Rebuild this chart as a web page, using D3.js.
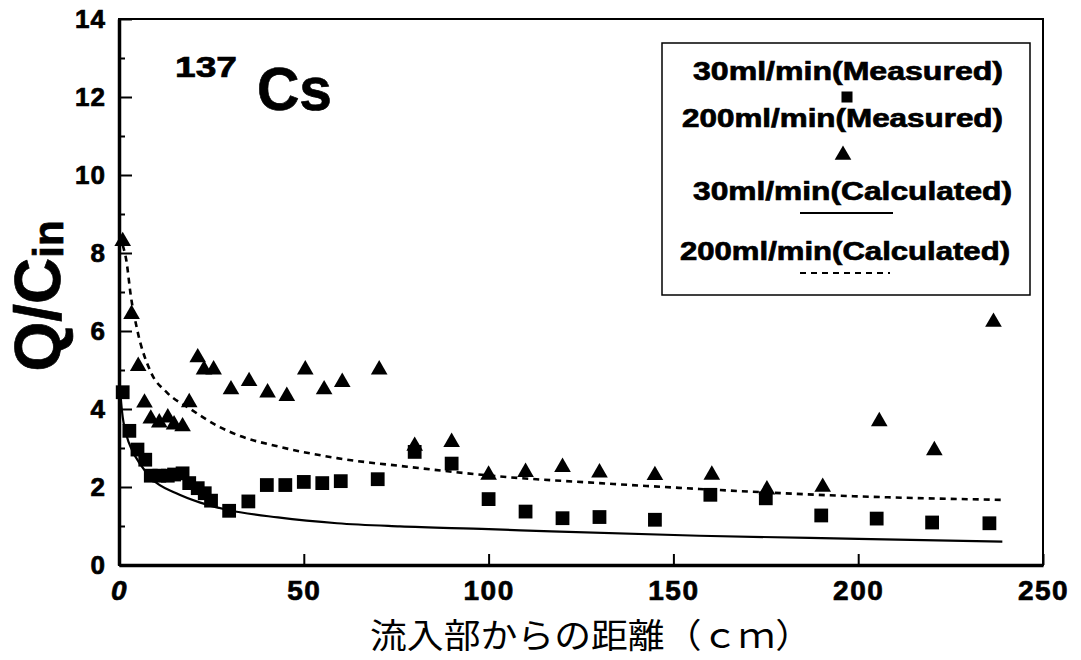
<!DOCTYPE html>
<html>
<head>
<meta charset="utf-8">
<script src="https://cdn.jsdelivr.net/npm/d3@7"></script>
<style>
  html, body { margin: 0; padding: 0; background: #fff; }
  svg { display: block; }
  text { fill: #000; }
  .heavy { stroke: #000; stroke-width: 0.7px; }
</style>
</head>
<body>
<svg id="chart" width="1081" height="660"></svg>
<script>
// ---- Data ----
const meas30X = [1, 2.8, 5, 7.1, 8.6, 10.9, 13.2, 14.9, 17.2, 19, 21.3, 23.2, 24.9, 29.8, 35, 40, 45, 50, 55, 60, 70, 80, 90, 100, 110, 120, 130, 145, 160, 175, 190, 205, 220, 235.5];
const meas30Y = [4.43, 3.44, 2.96, 2.7, 2.29, 2.29, 2.29, 2.32, 2.35, 2.1, 1.97, 1.84, 1.65, 1.39, 1.63, 2.05, 2.05, 2.13, 2.1, 2.15, 2.2, 2.9, 2.6, 1.69, 1.37, 1.2, 1.23, 1.16, 1.8, 1.71, 1.27, 1.19, 1.09, 1.07];

const meas200X = [1, 3.4, 5.2, 6.9, 8.6, 10.9, 13.2, 14.9, 17.2, 19, 21.3, 23, 25.6, 30.3, 35.2, 40.2, 45.4, 50.4, 55.5, 60.4, 70.4, 80, 90, 100, 110, 120, 130, 145, 160.4, 175.3, 190.4, 205.7, 220.6, 236.6];
const meas200Y = [8.3, 6.43, 5.1, 4.16, 3.75, 3.65, 3.78, 3.6, 3.55, 4.17, 5.32, 5.01, 5.01, 4.5, 4.71, 4.42, 4.33, 5.01, 4.5, 4.69, 5.01, 3.05, 3.15, 2.31, 2.38, 2.51, 2.37, 2.3, 2.31, 1.93, 2.0, 3.68, 2.94, 6.23];

const calc30X = [0.3, 0.8, 2.1, 3.5, 5.5, 9, 15.5, 22, 29.5, 43, 59, 76, 100, 117, 157, 200, 239];
const calc30Y = [4.5, 3.95, 3.3, 2.95, 2.62, 2.2, 1.84, 1.6, 1.41, 1.22, 1.07, 0.99, 0.92, 0.86, 0.75, 0.67, 0.6];

const calc200X = [1, 2, 3.2, 5, 8.6, 13, 19, 27, 33, 43, 59, 78, 103, 130, 157, 197, 239];
const calc200Y = [8.2, 7.8, 6.9, 6.0, 4.95, 4.42, 4.02, 3.55, 3.3, 3.04, 2.74, 2.52, 2.27, 2.1, 1.95, 1.77, 1.67];

const xTicks = [0, 50, 100, 150, 200, 250];
const yTicksMajor = [0, 2, 4, 6, 8, 10, 12, 14];
const yTicksMinor = [1, 3, 5, 7, 9, 11, 13];

const legendLabels = ["30ml/min(Measured)", "200ml/min(Measured)", "30ml/min(Calculated)", "200ml/min(Calculated)"];
const titleMass = "137";
const titleElement = "Cs";
const xTitle = "流入部からの距離（ｃｍ）";

// ---- Layout ----
const svg = d3.select("#chart");
const font = "'Liberation Sans', Arial, Helvetica, sans-serif";
const plotL = 119, plotR = 1043, plotT = 19, plotB = 565;

const x = d3.scaleLinear().domain([0, 250]).range([plotL, plotR]);
const y = d3.scaleLinear().domain([0, 14]).range([plotB, plotT]);

// frame (top & right thinner)
svg.append("rect")
  .attr("x", plotL).attr("y", plotT)
  .attr("width", plotR - plotL).attr("height", plotB - plotT)
  .attr("fill", "none").attr("stroke", "#000").attr("stroke-width", 2);

// Y axis: major ticks
const yAxis = d3.axisLeft(y).tickValues(yTicksMajor).tickSizeInner(-13).tickSizeOuter(0).tickPadding(13).tickFormat(d3.format("d"));
const gy = svg.append("g").attr("transform", `translate(${plotL},0)`).call(yAxis);
gy.select(".domain").attr("stroke-width", 3.5);
gy.selectAll(".tick line").attr("stroke-width", 2);
gy.selectAll(".tick text").attr("class", "heavy").attr("font-family", font).attr("font-weight", "bold").attr("font-size", 26).attr("letter-spacing", 1);

// Y minor ticks
const yAxisMinor = d3.axisLeft(y).tickValues(yTicksMinor).tickSizeInner(-6).tickSizeOuter(0).tickFormat("");
const gym = svg.append("g").attr("transform", `translate(${plotL},0)`).call(yAxisMinor);
gym.select(".domain").remove();
gym.selectAll(".tick line").attr("stroke-width", 2);

// X axis
const xAxis = d3.axisBottom(x).tickValues(xTicks).tickSizeInner(-11).tickSizeOuter(0).tickPadding(15).tickFormat(d3.format("d"));
const gx = svg.append("g").attr("transform", `translate(0,${plotB})`).call(xAxis);
gx.select(".domain").attr("stroke-width", 3.5);
gx.selectAll(".tick line").attr("stroke-width", 2);
gx.selectAll(".tick text").attr("class", "heavy").attr("font-family", font).attr("font-weight", "bold").attr("font-size", 28).attr("letter-spacing", 1.5)
  .attr("font-style", d => d === 0 ? "italic" : "normal");

// ---- Curves ----
const line = d3.line().x(d => x(d[0])).y(d => y(d[1])).curve(d3.curveMonotoneX);
svg.append("path")
  .datum(calc30X.map((v, i) => [v, calc30Y[i]]))
  .attr("d", line).attr("fill", "none").attr("stroke", "#000").attr("stroke-width", 2.2);
svg.append("path")
  .datum(calc200X.map((v, i) => [v, calc200Y[i]]))
  .attr("d", line).attr("fill", "none").attr("stroke", "#000").attr("stroke-width", 2.6)
  .attr("stroke-dasharray", "6,5");

// ---- Markers ----
const sq = d3.symbol().type(d3.symbolSquare).size(190);
const tri = d3.symbol().type(d3.symbolTriangle).size(120);

svg.append("g").selectAll("path")
  .data(meas200X.map((v, i) => [v, meas200Y[i]]))
  .join("path")
  .attr("d", tri)
  .attr("transform", d => `translate(${x(d[0])},${y(d[1])})`)
  .attr("fill", "#000");

svg.append("g").selectAll("path")
  .data(meas30X.map((v, i) => [v, meas30Y[i]]))
  .join("path")
  .attr("d", sq)
  .attr("transform", d => `translate(${x(d[0])},${y(d[1])})`)
  .attr("fill", "#000");

// ---- Title 137Cs ----
svg.append("text").attr("x", 175).attr("y", 77).attr("class", "heavy")
  .attr("font-family", font).attr("font-weight", "bold").attr("font-size", 30)
  .attr("textLength", 62).attr("lengthAdjust", "spacingAndGlyphs")
  .text(titleMass);
svg.append("text").attr("x", 257).attr("y", 110).attr("class", "heavy")
  .attr("font-family", font).attr("font-weight", "bold").attr("font-size", 62)
  .attr("textLength", 75).attr("lengthAdjust", "spacingAndGlyphs")
  .text(titleElement);

// ---- Legend ----
svg.append("rect").attr("x", 662).attr("y", 43).attr("width", 368).attr("height", 252)
  .attr("fill", "#fff").attr("stroke", "#000").attr("stroke-width", 1.5);

const legRows = [
  { x: 693, y: 80, w: 310 },
  { x: 682, y: 127, w: 321 },
  { x: 693, y: 200, w: 319 },
  { x: 680, y: 260, w: 330 }
];
legRows.forEach((r, i) => {
  svg.append("text").attr("x", r.x).attr("y", r.y).attr("class", "heavy")
    .attr("font-family", font).attr("font-weight", "bold").attr("font-size", 25)
    .attr("textLength", r.w).attr("lengthAdjust", "spacingAndGlyphs")
    .text(legendLabels[i]);
});
svg.append("path").attr("d", sq).attr("transform", "translate(847,97) scale(0.8)").attr("fill", "#000");
svg.append("path").attr("d", tri).attr("transform", "translate(843,155)").attr("fill", "#000");
svg.append("line").attr("x1", 800).attr("x2", 893).attr("y1", 213).attr("y2", 213)
  .attr("stroke", "#000").attr("stroke-width", 1.8);
svg.append("line").attr("x1", 800).attr("x2", 890).attr("y1", 273).attr("y2", 273)
  .attr("stroke", "#000").attr("stroke-width", 2.2).attr("stroke-dasharray", "6,5");

// ---- Axis titles ----
const yt = svg.append("text")
  .attr("transform", "translate(60,296) rotate(-90)")
  .attr("text-anchor", "middle").attr("class", "heavy")
  .attr("font-family", font).attr("font-weight", "bold").attr("font-size", 64);
yt.append("tspan").text("Q/C");
yt.append("tspan").attr("font-size", 42).attr("dy", 3).text("in");

svg.append("text").attr("x", 591).attr("y", 648)
  .attr("text-anchor", "middle")
  .attr("font-family", "'Noto Sans CJK JP', sans-serif").attr("font-size", 34)
  .attr("textLength", 442).attr("lengthAdjust", "spacingAndGlyphs")
  .text(xTitle);
</script>
</body>
</html>
